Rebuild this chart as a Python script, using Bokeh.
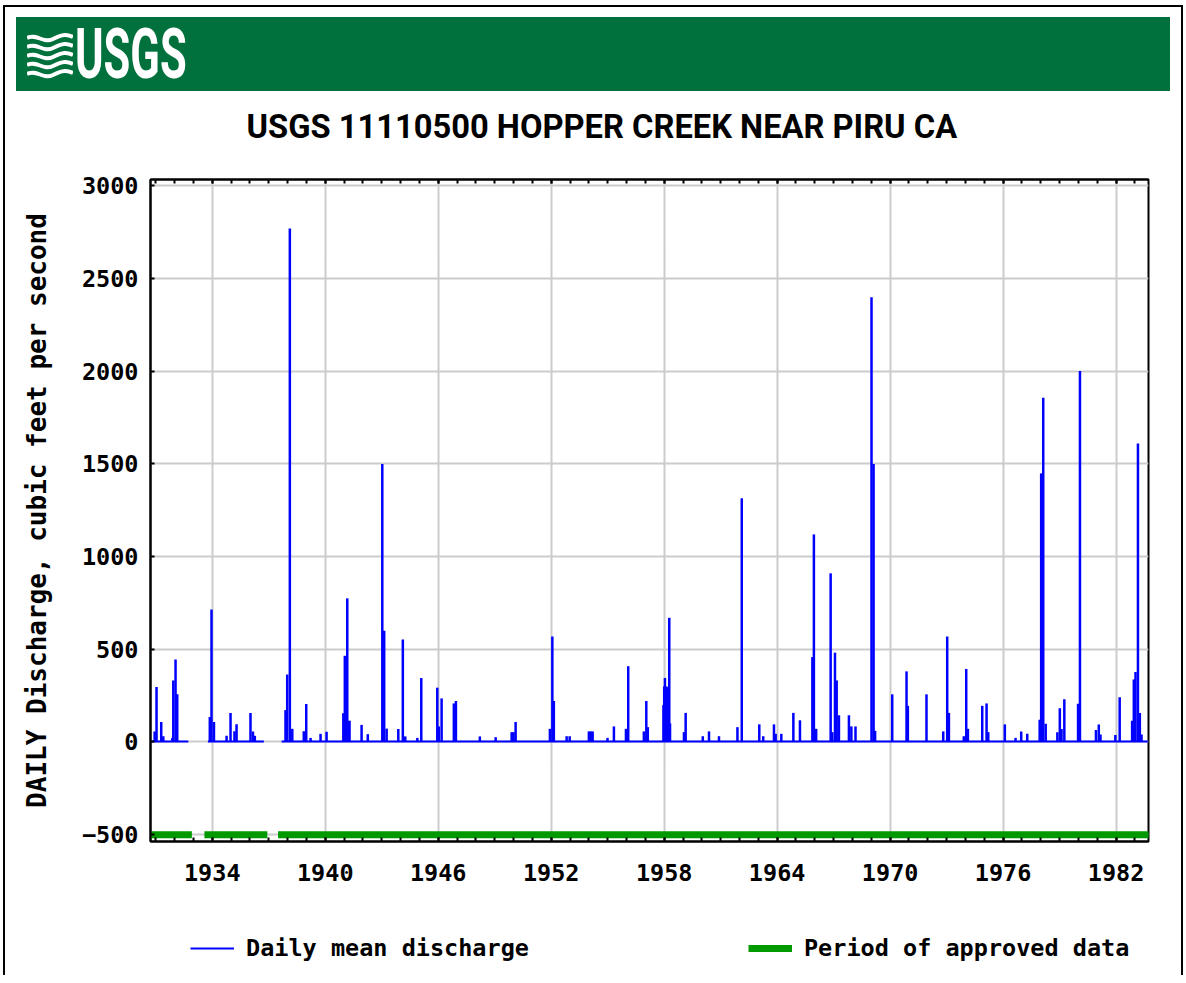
import numpy as np
from bokeh.plotting import figure
from bokeh.models import (Range1d, FixedTicker, LinearAxis, Legend, LegendItem, Div,
                          CustomLabelingPolicy)
from bokeh.layouts import column
from bokeh.embed import file_html
from bokeh.resources import INLINE

# ---------------- data ----------------
# continuous record periods (decimal years)
period_start = [1930.75, 1933.77, 1937.68]
period_end = [1932.73, 1936.74, 1983.70]
baseline_cfs = [3, 3, 3]

# daily-mean discharge peaks (decimal year, cubic feet per second)
peak_year = [
    1930.94, 1931.04, 1931.29, 1931.40, 1931.88, 1931.93, 1932.05, 1932.14,
    1933.87, 1933.96, 1934.09, 1934.76, 1934.97, 1935.18, 1935.29, 1936.03, 1936.16, 1936.26,
    1937.89, 1937.98, 1938.12, 1938.25, 1938.86, 1938.99, 1939.22, 1939.75, 1940.07,
    1940.96, 1941.04, 1941.17, 1941.23, 1941.29, 1941.93, 1942.26,
    1943.03, 1943.13, 1943.26, 1943.88, 1944.12, 1944.25, 1944.89, 1945.10,
    1945.95, 1946.03, 1946.18, 1946.83, 1946.94, 1948.21, 1949.05,
    1949.90, 1950.00, 1950.11, 1951.93, 1952.06, 1952.14, 1952.82, 1952.98,
    1954.00, 1954.10, 1954.20, 1954.99, 1955.33, 1955.97, 1956.09,
    1956.92, 1957.05, 1957.13,
    1957.96, 1958.00, 1958.04, 1958.11, 1958.16, 1958.20, 1958.27, 1958.31,
    1959.05, 1959.14, 1960.05, 1960.38, 1960.91, 1961.89, 1962.12,
    1963.05, 1963.26, 1963.83, 1963.92, 1964.22, 1964.86, 1965.21,
    1965.87, 1965.95, 1966.07, 1966.84, 1966.93, 1967.07, 1967.16, 1967.28,
    1967.81, 1967.94, 1968.16, 1969.01, 1969.12, 1969.20,
    1970.11, 1970.87, 1970.94, 1971.93, 1972.82, 1973.03, 1973.12,
    1973.91, 1974.04, 1974.13, 1974.89, 1975.12, 1975.21, 1976.09,
    1976.66, 1976.96, 1977.28, 1977.94, 1978.02, 1978.08, 1978.13, 1978.26,
    1978.88, 1979.01, 1979.10, 1979.25, 1979.98, 1980.08,
    1980.93, 1981.08, 1981.17, 1981.96, 1982.19,
    1982.85, 1982.94, 1983.03, 1983.16, 1983.26, 1983.35,
]
peak_cfs = [
    57, 296, 108, 31, 22, 332, 445, 257,
    135, 715, 108, 33, 157, 58, 95, 157, 57, 33,
    172, 364, 2770, 71, 58, 205, 22, 44, 55,
    155, 465, 775, 112, 115, 92, 42,
    1500, 600, 72, 70, 553, 30, 22, 345,
    293, 84, 235, 208, 221, 30, 26,
    53, 53, 108, 71, 569, 221, 31, 31,
    57, 57, 57, 22, 84, 71, 409,
    57, 221, 80,
    199, 300, 345, 300, 296, 296, 670, 100,
    53, 157, 31, 57, 31, 80, 1315,
    95, 31, 95, 44, 44, 157, 117,
    458, 1120, 71, 910, 53, 482, 332, 144,
    144, 84, 84, 2400, 1500, 60,
    257, 381, 195, 257, 57, 569, 157,
    31, 394, 71, 195, 208, 53, 95,
    22, 57, 44, 120, 1448, 1448, 1857, 98,
    53, 182, 70, 230, 206, 2002,
    65, 94, 40, 38, 242,
    114, 337, 377, 1610, 156, 40,
]

# period of approved data
approved_start = [1930.75, 1933.77, 1937.68]
approved_end = [1932.73, 1936.74, 1983.70]
approved_level = [-500, -500, -500]

year_ticks = [1934, 1940, 1946, 1952, 1958, 1964, 1970, 1976, 1982]
year_minor = list(range(1931, 1984))
cfs_ticks = [-500, 0, 500, 1000, 1500, 2000, 2500, 3000]

GREEN = "#00703c"
BLUE = "#0000ff"
APPROVED = "#009a00"
MONO = "DejaVu Sans Mono"
TICK_FS = "23.5px"

approved_xs = [[s, e] for s, e in zip(approved_start, approved_end)]
approved_ys = [[v, v] for v in approved_level]
base_xs = [[s, e] for s, e in zip(period_start, period_end)]
base_ys = [[v, v] for v in baseline_cfs]

# ---------------- header (USGS banner) ----------------
waves = "".join(
    f'<path d="M0 {6 + 9*k} C 10 {1 + 9*k}, 16 {12 + 9*k}, 26 {7 + 9*k} S 40 {2 + 9*k}, 46 {5 + 9*k}" '
    f'stroke="white" stroke-width="4" fill="none"/>' for k in range(5))
header_html = f"""
<div style="position:relative;width:1176px;height:84px;">
 <div style="position:absolute;left:11px;top:10px;width:1154px;height:74px;background:{GREEN};">
  <svg style="position:absolute;left:11px;top:15px" width="46" height="48" viewBox="0 0 46 48">{waves}</svg>
  <span style="position:absolute;left:59px;top:6px;color:white;font:bold 70px Roboto;line-height:0.9;
               display:inline-block;transform:scaleX(0.62);transform-origin:left top;">USGS</span>
 </div>
</div>"""
header = Div(text=header_html, width=1176, height=84, margin=0)

# ---------------- main chart ----------------
p = figure(width=1176, height=810, output_backend="svg", toolbar_location=None,
           x_range=Range1d(1930.72, 1983.72), y_range=Range1d(-537, 3035),
           min_border_left=145, min_border_right=33, min_border_top=88, min_border_bottom=60,
           background_fill_color="white", border_fill_color="white",
           x_axis_location=None, y_axis_location=None, margin=0)
p.outline_line_color = "black"
p.outline_line_width = 2

p.title.text = "USGS 11110500 HOPPER CREEK NEAR PIRU CA"
p.title.text_font = "Roboto"
p.title.text_font_style = "bold"
p.title.text_font_size = "32.7px"
p.title.text_color = "black"
p.title.align = "left"
p.title.offset = 96
p.title.standoff = 28

no_labels = CustomLabelingPolicy(code="""
const n = indices.size
for (let i = 0; i < n; i++) { indices.unset(i) }
return indices
""")

xb = LinearAxis(ticker=FixedTicker(ticks=year_ticks, minor_ticks=year_minor))
xt = LinearAxis(ticker=FixedTicker(ticks=year_ticks, minor_ticks=year_minor),
                major_label_policy=no_labels)
yl = LinearAxis(ticker=FixedTicker(ticks=cfs_ticks),
                axis_label="DAILY Discharge, cubic feet per second")
for ax in (xb, xt, yl):
    ax.axis_line_width = 2
    ax.axis_line_color = "black"
    ax.major_tick_in = 4
    ax.major_tick_out = 0
    ax.minor_tick_in = 4
    ax.minor_tick_out = 0
    ax.major_tick_line_width = 2
    ax.minor_tick_line_width = 2
    ax.major_label_text_font = MONO
    ax.major_label_text_font_style = "bold"
    ax.major_label_text_font_size = TICK_FS
    ax.major_label_text_color = "black"
yl.minor_tick_line_color = None
yl.major_label_standoff = 12
yl.axis_label_text_font = MONO
yl.axis_label_text_font_style = "bold"
yl.axis_label_text_font_size = "26px"
yl.axis_label_text_color = "black"
yl.axis_label_standoff = 27
xb.major_label_standoff = 22
xt.major_label_standoff = 0
p.add_layout(xb, "below")
p.add_layout(xt, "above")
p.add_layout(yl, "left")

p.xgrid.ticker = FixedTicker(ticks=year_ticks)
p.ygrid.ticker = FixedTicker(ticks=cfs_ticks)
for g in (p.xgrid, p.ygrid):
    g.grid_line_color = "#cccccc"
    g.grid_line_width = 2

# approved-data periods
p.multi_line(xs=approved_xs, ys=approved_ys, line_color=APPROVED, line_width=7, line_cap="square")
# discharge baseline and daily peaks
p.multi_line(xs=base_xs, ys=base_ys, line_color=BLUE, line_width=2)
p.segment(x0=peak_year, y0=[0] * len(peak_year), x1=peak_year, y1=peak_cfs,
          line_color=BLUE, line_width=2.5)

# ---------------- legend strip below the chart ----------------
# the same series are attached here (outside this strip's view) only to feed the legend
lf = figure(width=1176, height=74, output_backend="svg", toolbar_location=None,
            x_range=Range1d(0, 1), y_range=Range1d(0, 1), min_border=0, margin=0,
            outline_line_color=None, background_fill_color="white", border_fill_color="white")
lf.axis.visible = False
lf.grid.visible = False
lr_blue = lf.multi_line(xs=base_xs, ys=base_ys, line_color=BLUE, line_width=2)
lr_green = lf.multi_line(xs=approved_xs, ys=approved_ys, line_color=APPROVED, line_width=7)
legend = Legend(items=[LegendItem(label="Daily mean discharge", renderers=[lr_blue]),
                       LegendItem(label="Period of approved data", renderers=[lr_green])],
                orientation="horizontal", location=(40, 13),
                border_line_color=None, background_fill_alpha=0,
                label_text_font=MONO, label_text_font_style="bold", label_text_color="black",
                label_text_font_size=TICK_FS, glyph_width=44, label_standoff=12,
                spacing=219, margin=0, padding=0)
lf.add_layout(legend, "center")

layout = column(header, p, lf, margin=(5, 0, 0, 3),
                styles={"border-left": "2px solid black",
                        "border-top": "2px solid black",
                        "border-right": "2px solid black"})
open("out.html", "w").write(file_html(layout, INLINE))
